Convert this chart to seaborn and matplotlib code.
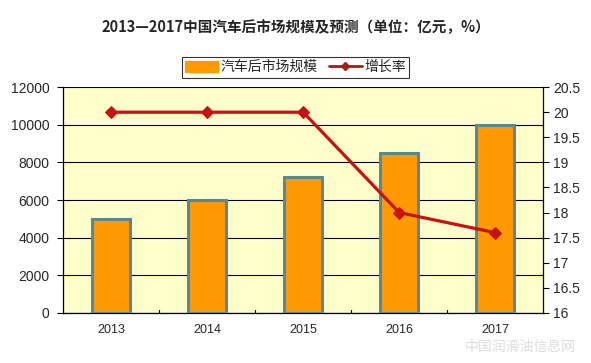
import matplotlib
matplotlib.use("Agg")
import matplotlib.pyplot as plt
import matplotlib.patches as mpatches
from matplotlib.lines import Line2D
import pandas as pd
import seaborn as sns

# data
years  = ["2013", "2014", "2015", "2016", "2017"]
market = [5000, 6000, 7200, 8500, 10000]        # 汽车后市场规模 (亿元)
growth = [20.0, 20.0, 20.0, 18.0, 17.6]          # 增长率 (%)
left_ticks  = [0, 2000, 4000, 6000, 8000, 10000, 12000]
right_ticks = [16, 16.5, 17, 17.5, 18, 18.5, 19, 19.5, 20, 20.5]

sns.set_theme(style="white")
plt.rcParams["font.family"] = ["Liberation Sans", "Noto Sans CJK SC", "DejaVu Sans"]

BAR   = "#FF9900"
EDGE  = "#5A8796"
LINE  = "#CC1010"
PANEL = "#FFFFCC"
CJK   = ["Noto Sans CJK SC", "DejaVu Sans"]

df = pd.DataFrame({"year": years, "market": market, "growth": growth})

fig = plt.figure(figsize=(5.91, 3.63), dpi=100)
fig.patch.set_facecolor("white")
ax = fig.add_axes([0.107, 0.138, 0.812, 0.622])
ax.set_facecolor(PANEL)

sns.barplot(data=df, x="year", y="market", ax=ax, color=BAR,
            width=0.4, edgecolor=EDGE, linewidth=2.2, saturation=1, zorder=3)
ax.set_ylim(0, 12000)
ax.set_yticks(left_ticks)
ax.set_yticklabels([str(t) for t in left_ticks], fontsize=10)
ax.yaxis.grid(True, color="black", linewidth=0.8, zorder=0)
ax.set_axisbelow(True)
ax.set_xlim(-0.5, 4.5)
ax.set_xlabel(""); ax.set_ylabel("")
ax.tick_params(axis="x", length=0, labelsize=9, pad=8)
ax.tick_params(axis="y", left=True, length=4, width=0.8, color="black", pad=6)
for s in ["top", "right"]:
    ax.spines[s].set_visible(False)
for s in ["left", "bottom"]:
    ax.spines[s].set_color("black")
    ax.spines[s].set_linewidth(0.9)
# category divider ticks on x axis
for xb in [0.5, 1.5, 2.5, 3.5]:
    ax.plot([xb, xb], [0, 150], color="black", lw=0.8, zorder=4, clip_on=False)

ax2 = ax.twinx()
sns.lineplot(data=df, x="year", y="growth", ax=ax2, color=LINE, lw=2.3,
             marker="D", markersize=6.5, markeredgecolor=LINE, zorder=5)
ax2.set_ylim(16, 20.5)
ax2.set_yticks(right_ticks)
ax2.set_yticklabels([f"{t:g}" for t in right_ticks], fontsize=10)
ax2.set_ylabel("")
ax2.tick_params(axis="y", right=True, length=4, width=0.8, color="black", pad=3)
for s in ["top", "left", "bottom"]:
    ax2.spines[s].set_visible(False)
ax2.spines["right"].set_color("black")
ax2.spines["right"].set_linewidth(0.9)
ax2.grid(False)

handles = [mpatches.Patch(color=BAR, label="汽车后市场规模"),
           Line2D([], [], color="#B01818", lw=2, marker="D", markersize=4,
                  label="增长率")]
leg = fig.legend(handles=handles, loc="center", bbox_to_anchor=(0.5, 0.815),
                 ncol=2, frameon=True, fancybox=False,
                 edgecolor="black", handlelength=2.4, handleheight=0.9,
                 handletextpad=0.15, columnspacing=0.8, borderpad=0.25,
                 borderaxespad=0, prop={"family": CJK, "size": 10})
leg.get_frame().set_linewidth(0.8)

fig.text(0.5, 0.925, "2013—2017中国汽车后市场规模及预测（单位：亿元，%）",
         ha="center", va="center", fontsize=10.5, fontweight="bold", family=CJK)

# faint watermark
fig.text(0.88, 0.045, "中国润滑油信息网", ha="center", va="center", fontsize=10,
         color="#DDDDDD", family=CJK)

fig.savefig("out.png", dpi=100, facecolor="white")
